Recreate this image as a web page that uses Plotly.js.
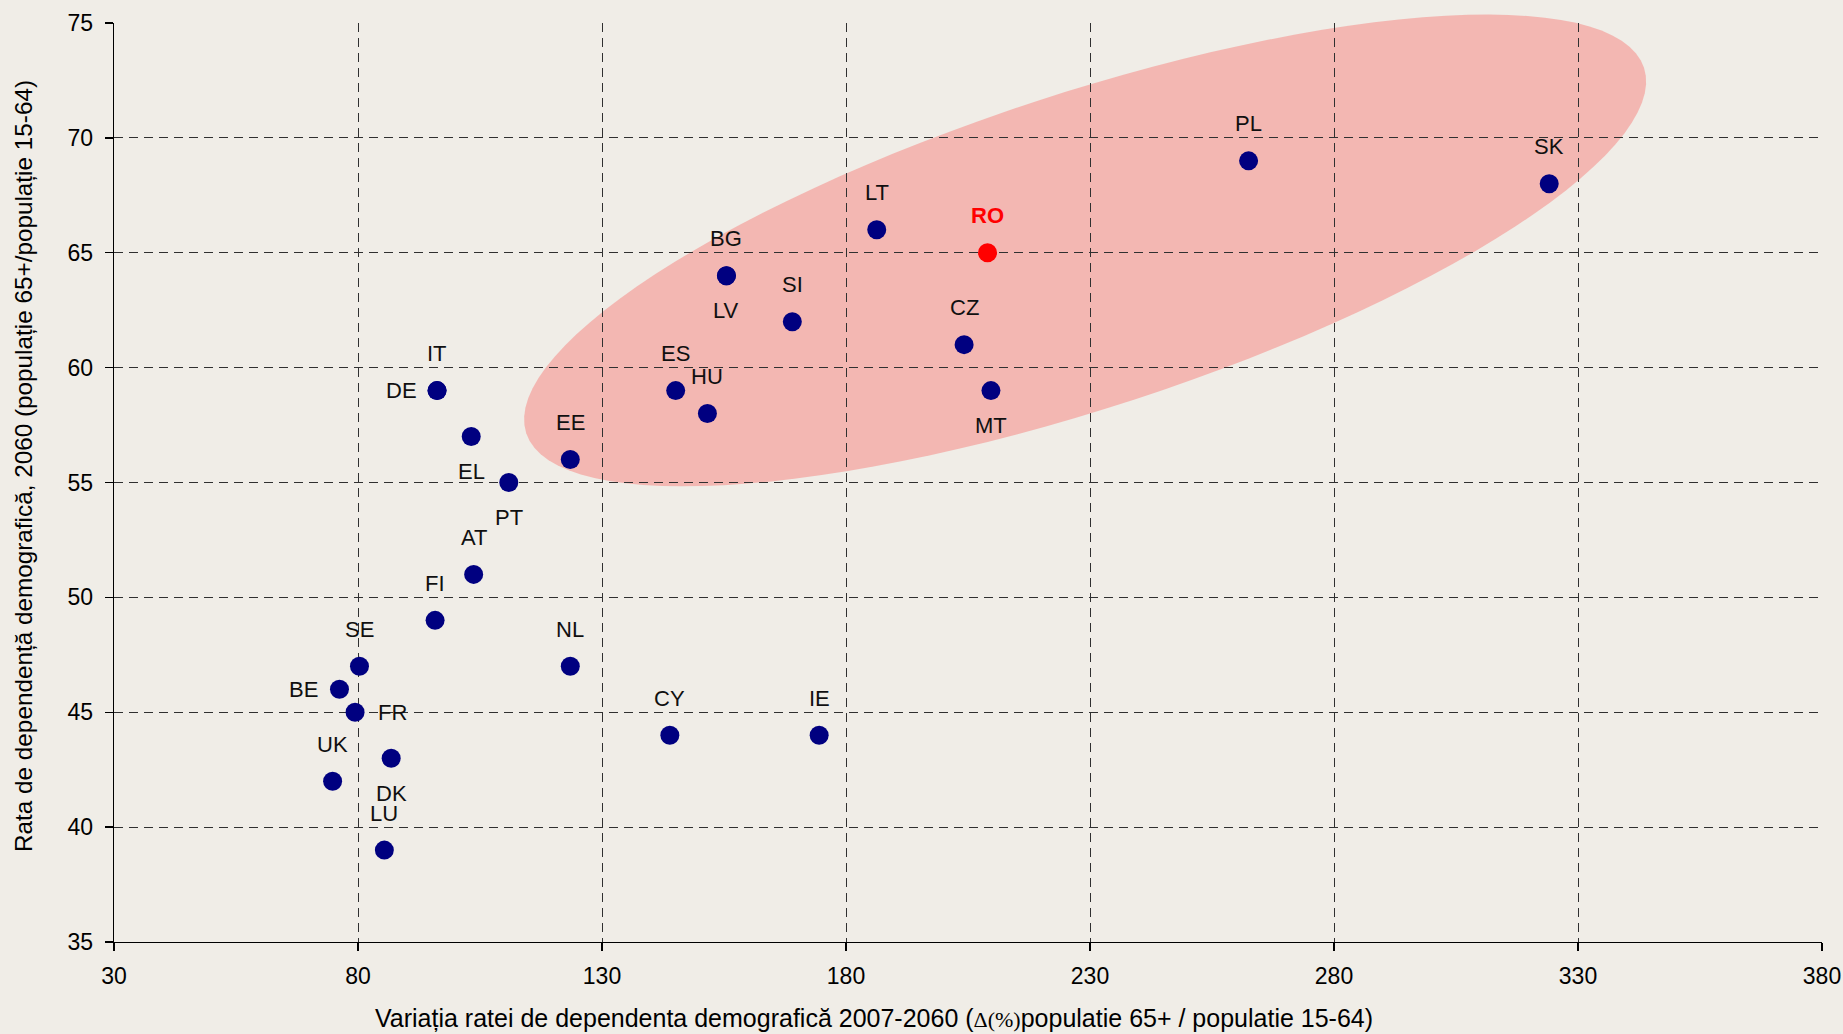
<!DOCTYPE html>
<html>
<head>
<meta charset="utf-8">
<script src="https://cdn.plot.ly/plotly-3.0.1.min.js"></script>
<style>
  html, body { margin: 0; padding: 0; background: #F0EDE7; }
  #chart { width: 1843px; height: 1034px; }
</style>
</head>
<body>
<div id="chart"></div>
<script>
// ---- Data ----
const countries = ['IT','DE','EL','PT','AT','FI','SE','BE','FR','DK','UK','LU','NL','CY','IE','EE','ES','HU','BG','LV','SI','LT','RO','CZ','MT','PL','SK'];
const changeDependency = [96.2,96.2,103.2,110.9,103.7,95.8,80.3,76.2,79.4,86.8,74.8,85.4,123.5,143.9,174.5,123.5,145.1,151.6,155.5,155.5,169.0,186.3,209.0,204.2,209.7,262.5,324.1];
const dependency2060 = [59,59,57,55,51,49,47,46,45,43,42,39,47,44,44,56,59,58,64,64,62,66,65,61,59,69,68];
const highlighted = 'RO';
const xTicks = [30,80,130,180,230,280,330,380];
const yTicks = [35,40,45,50,55,60,65,70,75];
const xTitle = 'Variația ratei de dependenta demografică 2007-2060 (<span style="font-family:\'Liberation Serif\',serif;font-size:22px">Δ(%)</span>populatie 65+ / populatie 15-64)';
const yTitle = 'Rata de dependență demografică, 2060 (populație 65+/populație 15-64)';

// ---- Label placement (style, not data) ----
const labelSide = {
  IT:'top', DE:'left', EL:'bottom', PT:'bottom', AT:'top', FI:'top', SE:'top', BE:'left', FR:'right',
  DK:'bottom', UK:'top', LU:'top', NL:'top', CY:'top', IE:'top', EE:'top', ES:'top', HU:'top',
  BG:'top', LV:'bottom', SI:'top', LT:'top', RO:'top', CZ:'top', MT:'bottom', PL:'top', SK:'top'
};
const sideShift = { top:[0,37], bottom:[0,-35], left:[-36,0], right:[37,0] };

// ---- Layout geometry ----
const M = { l:114, r:21, t:23, b:92 };
const FIG_W = 1843, FIG_H = 1034;
const PW = FIG_W - M.l - M.r, PH = FIG_H - M.t - M.b;
const xRange = [30,380], yRange = [35,75];
const BG = '#F0EDE7';
const FONT = 'Liberation Sans, Arial, sans-serif';

// highlight ellipse (center in data units, semi-axes in px, rotation in degrees)
const ellipse = { cx: 229, cy: 65.1, a: 588, b: 157, angle: 18.1 };
function ellipsePath(e) {
  const cxp = (e.cx - xRange[0]) / (xRange[1] - xRange[0]) * PW;
  const cyp = (yRange[1] - e.cy) / (yRange[1] - yRange[0]) * PH;
  const th = e.angle * Math.PI / 180;
  let d = '';
  const n = 120;
  for (let i = 0; i <= n; i++) {
    const t = 2 * Math.PI * i / n;
    const px = cxp + e.a * Math.cos(t) * Math.cos(th) - e.b * Math.sin(t) * Math.sin(th);
    const py = cyp - (e.a * Math.cos(t) * Math.sin(th) + e.b * Math.sin(t) * Math.cos(th));
    d += (i === 0 ? 'M' : 'L') + (px / PW).toFixed(5) + ',' + (1 - py / PH).toFixed(5);
  }
  return d + 'Z';
}

const colors = countries.map(c => c === highlighted ? '#FF0000' : '#000080');

const trace = {
  type: 'scatter',
  mode: 'markers',
  x: changeDependency,
  y: dependency2060,
  text: countries,
  marker: { size: 19, color: colors, line: { width: 0 } },
  cliponaxis: false,
  hoverinfo: 'text+x+y'
};

const annotations = countries.map((c, i) => {
  const s = sideShift[labelSide[c]];
  const isH = c === highlighted;
  return {
    x: changeDependency[i], y: dependency2060[i], xref: 'x', yref: 'y',
    text: isH ? '<b>' + c + '</b>' : c,
    showarrow: false, xanchor: 'center', yanchor: 'middle',
    xshift: s[0], yshift: s[1],
    font: { family: FONT, size: 22, color: isH ? '#FF0000' : '#101010' }
  };
});

annotations.push({
  xref: 'paper', yref: 'paper', x: (874 - M.l) / PW, y: -(1018 - M.t - PH) / PH,
  text: xTitle, showarrow: false, xanchor: 'center', yanchor: 'middle',
  font: { family: FONT, size: 25, color: '#000000' }
});
annotations.push({
  xref: 'paper', yref: 'paper', x: -(M.l - 23) / PW, y: 1 - (466 - M.t) / PH,
  text: yTitle, showarrow: false, textangle: -90, xanchor: 'center', yanchor: 'middle',
  font: { family: FONT, size: 24.3, color: '#000000' }
});

const axisCommon = {
  showgrid: true, gridcolor: '#303030', gridwidth: 1, griddash: '9px,6px',
  zeroline: false, showline: true, linecolor: '#000000', linewidth: 1.3,
  ticks: 'outside', ticklen: 8, tickcolor: '#000000', tickwidth: 1.3,
  tickfont: { family: FONT, size: 23, color: '#000000' },
  fixedrange: true
};

const layout = {
  width: FIG_W, height: FIG_H,
  margin: M,
  paper_bgcolor: BG, plot_bgcolor: BG,
  showlegend: false,
  xaxis: Object.assign({}, axisCommon, { range: xRange, tickmode: 'array', tickvals: xTicks, ticktext: xTicks.map(String), mirror: false, ticklabelstandoff: 5 }),
  yaxis: Object.assign({}, axisCommon, { range: yRange, tickmode: 'array', tickvals: yTicks, ticktext: yTicks.map(String), mirror: false, ticklabelstandoff: 7 }),
  shapes: [{
    type: 'path', xref: 'paper', yref: 'paper', layer: 'below',
    path: ellipsePath(ellipse),
    fillcolor: 'rgba(248,80,75,0.34)', line: { width: 0 }
  }],
  annotations: annotations
};

Plotly.newPlot('chart', [trace], layout, { displayModeBar: false, staticPlot: true });
</script>
</body>
</html>
